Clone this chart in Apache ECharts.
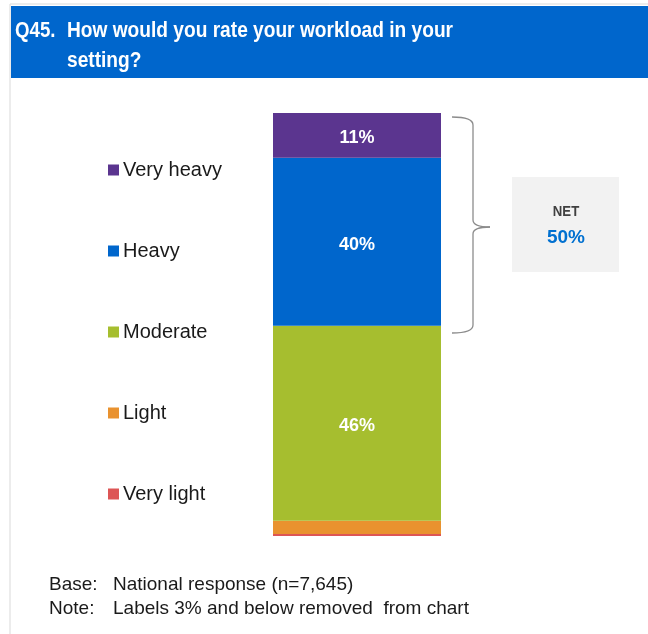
<!DOCTYPE html>
<html><head><meta charset="utf-8">
<script src="https://cdn.jsdelivr.net/npm/echarts@6/dist/echarts.min.js"></script>
<style>html,body{margin:0;padding:0;background:#fff}#c{width:648px;height:634px}</style>
</head><body><div id="c"></div>
<script>
const categories = ['Very heavy', 'Heavy', 'Moderate', 'Light', 'Very light'];
const values = [10.6, 39.7, 46.1, 3.1, 0.5];
const colors = ['#5b358f', '#0066cc', '#a6be2f', '#e9922f', '#dd5555'];
const netLabel = 'NET';
const netValue = '50%';
const titleQ = 'Q45.';
const titleLines = ['How would you rate your workload in your', 'setting?'];
const notes = [['Base:', 'National response (n=7,645)'], ['Note:', 'Labels 3% and below removed  from chart']];

const total = values.reduce((a, b) => a + b, 0);
const font = 'Liberation Sans, Arial, sans-serif';
const chart = echarts.init(document.getElementById('c'), null, {renderer: 'canvas'});

const order = [4, 3, 2, 1, 0];
const series = order.map(i => ({
  name: categories[i],
  type: 'bar',
  stack: 'all',
  barWidth: '100%',
  data: [values[i]],
  itemStyle: {color: colors[i]},
  label: {
    show: Math.round(values[i]) > 3,
    position: 'inside',
    offset: [0, 3],
    color: '#fff',
    fontWeight: 'bold',
    fontSize: 18,
    fontFamily: font,
    formatter: p => Math.round(p.value) + '%'
  },
  emphasis: {disabled: true}
}));

const br = {stroke: '#8c8c8c', lineWidth: 1.3, fill: 'none'};
const tstyle = (t) => ({text: t, fill: '#fff', font: 'bold 22px ' + font, textVerticalAlign: 'middle'});
const graphics = [
  {type: 'rect', shape: {x: 10, y: 4, width: 700, height: 700}, style: {fill: 'none', stroke: '#d9d9d9', lineWidth: 1}, silent: true, z: -1},
  {type: 'rect', shape: {x: 11, y: 6, width: 640, height: 72}, style: {fill: '#0066cc'}, silent: true},
  {type: 'text', x: 15, y: 31, scaleX: 0.85, style: tstyle(titleQ)},
  {type: 'text', x: 67, y: 31, scaleX: 0.87, style: tstyle(titleLines[0])},
  {type: 'text', x: 67, y: 61, scaleX: 0.87, style: tstyle(titleLines[1])},
  {type: 'bezierCurve', shape: {x1: 452, y1: 117, cpx1: 473, cpy1: 117, x2: 473, y2: 125}, style: br},
  {type: 'line', shape: {x1: 473, y1: 125, x2: 473, y2: 220}, style: br},
  {type: 'bezierCurve', shape: {x1: 473, y1: 220, cpx1: 473, cpy1: 227, x2: 490, y2: 227}, style: br},
  {type: 'bezierCurve', shape: {x1: 490, y1: 227, cpx1: 473, cpy1: 227, x2: 473, y2: 234}, style: br},
  {type: 'line', shape: {x1: 473, y1: 234, x2: 473, y2: 325}, style: br},
  {type: 'bezierCurve', shape: {x1: 473, y1: 325, cpx1: 473, cpy1: 333, x2: 452, y2: 333}, style: br},
  {type: 'rect', shape: {x: 512, y: 177, width: 107, height: 95}, style: {fill: '#f2f2f2'}},
  {type: 'text', x: 566, y: 212, style: {text: netLabel, fill: '#404040', font: 'bold 15px ' + font, textAlign: 'center', textVerticalAlign: 'middle'}, scaleX: 0.88, originX: 0},
  {type: 'text', x: 566, y: 238, style: {text: netValue, fill: '#0070d0', font: 'bold 19px ' + font, textAlign: 'center', textVerticalAlign: 'middle'}},
];
notes.forEach((n, k) => {
  graphics.push({type: 'text', x: 49, y: 585 + k * 24, style: {text: n[0], fill: '#1a1a1a', font: '19px ' + font, textVerticalAlign: 'middle'}});
  graphics.push({type: 'text', x: 113, y: 585 + k * 24, style: {text: n[1], fill: '#1a1a1a', font: '19px ' + font, textVerticalAlign: 'middle'}});
});

chart.setOption({
  animation: false,
  backgroundColor: '#fff',
  grid: {left: 273, top: 113, width: 168, height: 423, containLabel: false},
  xAxis: {type: 'category', data: [''], show: false},
  yAxis: {type: 'value', min: 0, max: total, show: false},
  legend: {
    orient: 'vertical', left: 108, top: 159, padding: 0,
    data: categories,
    itemWidth: 11, itemHeight: 11, itemGap: 59,
    icon: 'rect',
    selectedMode: false,
    textStyle: {fontSize: 20, fontFamily: font, color: '#1a1a1a', lineHeight: 22, padding: [0, 0, 0, -1]}
  },
  series: series,
  graphic: graphics
});
</script></body></html>
